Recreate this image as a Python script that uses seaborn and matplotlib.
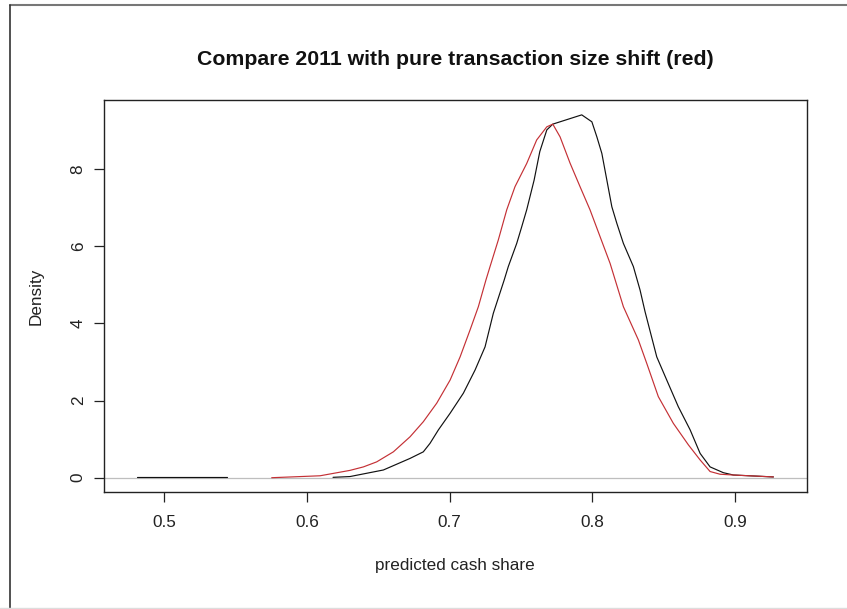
import pandas as pd
import seaborn as sns
import matplotlib.pyplot as plt
from matplotlib.lines import Line2D

# Density curves
black_x = [0.6183, 0.6302, 0.6536, 0.6723, 0.6816, 0.6863, 0.6922, 0.7004, 0.7097,
           0.7179, 0.7249, 0.7307, 0.7383, 0.7412, 0.7471, 0.7506, 0.7541, 0.7593,
           0.7633, 0.7682, 0.7724, 0.7927, 0.7998, 0.8033, 0.8068, 0.8103, 0.8138,
           0.8173, 0.8219, 0.8289, 0.8336, 0.8371, 0.8453, 0.8523, 0.8604, 0.8687,
           0.8757, 0.8827, 0.8920, 0.8990, 0.9271]
black_y = [0.01, 0.03, 0.20, 0.50, 0.67, 0.89, 1.24, 1.67, 2.19,
           2.79, 3.39, 4.26, 5.12, 5.47, 6.07, 6.50, 6.94, 7.71,
           8.45, 9.01, 9.16, 9.40, 9.22, 8.83, 8.40, 7.71, 7.02,
           6.59, 6.07, 5.47, 4.86, 4.30, 3.13, 2.53, 1.84, 1.24,
           0.63, 0.28, 0.13, 0.07, 0.02]
# short flat piece of the black curve on the far left
black_tail_x = [0.4806, 0.5438]
black_tail_y = [0.02, 0.02]

red_x = [0.5753, 0.6092, 0.6302, 0.6396, 0.6489, 0.6606, 0.6723, 0.6816, 0.6910,
         0.7004, 0.7074, 0.7144, 0.7202, 0.7255, 0.7284, 0.7342, 0.7401, 0.7459,
         0.7541, 0.7611, 0.7682, 0.7724, 0.7775, 0.7845, 0.7915, 0.7985, 0.8056,
         0.8126, 0.8219, 0.8324, 0.8383, 0.8464, 0.8569, 0.8675, 0.8757, 0.8827,
         0.8897, 0.8990, 0.9271]
red_y = [0.00, 0.05, 0.19, 0.28, 0.41, 0.67, 1.06, 1.45, 1.93,
         2.53, 3.13, 3.83, 4.43, 5.12, 5.47, 6.16, 6.94, 7.54,
         8.14, 8.75, 9.09, 9.16, 8.83, 8.15, 7.54, 6.94, 6.24,
         5.55, 4.43, 3.57, 2.96, 2.10, 1.41, 0.85, 0.46, 0.16,
         0.09, 0.07, 0.02]

x_ticks = [0.5, 0.6, 0.7, 0.8, 0.9]
y_ticks = [0, 2, 4, 6, 8]

df = pd.concat([
    pd.DataFrame({"x": black_tail_x, "y": black_tail_y, "series": "2011", "seg": "b0"}),
    pd.DataFrame({"x": black_x, "y": black_y, "series": "2011", "seg": "b1"}),
    pd.DataFrame({"x": red_x, "y": red_y, "series": "shift", "seg": "r1"}),
])

sns.set_style("ticks")
plt.rcParams["font.family"] = ["Liberation Sans", "DejaVu Sans"]

fig = plt.figure(figsize=(8.47, 6.09), dpi=100)
ax = fig.add_axes([104 / 847, 1 - 492.3 / 609, 702.5 / 847, 392.3 / 609])

# outer screenshot border
fig.add_artist(Line2D([9.5 / 847, 1], [1 - 5 / 609, 1 - 5 / 609], color="#777777", lw=1.5))
fig.add_artist(Line2D([9.5 / 847, 9.5 / 847], [0, 1 - 5 / 609], color="#333333", lw=1.2))
fig.add_artist(Line2D([0, 1], [1.5 / 609, 1.5 / 609], color="#dddddd", lw=1))

ax.axhline(0, color="#bebebe", lw=0.9, zorder=1)
sns.lineplot(data=df, x="x", y="y", hue="series", units="seg", estimator=None,
             sort=False, palette={"2011": "#111111", "shift": "#c43035"},
             lw=0.85, legend=False, ax=ax, zorder=3)

ax.set_xlim(0.4577, 0.9503)
ax.set_ylim(-0.378, 9.785)
ax.set_xticks(x_ticks)
ax.set_xticklabels([f"{t:.1f}" for t in x_ticks])
ax.set_yticks(y_ticks)
ax.set_yticklabels([str(t) for t in y_ticks], rotation=90, va="center")

for side in ["top", "right", "left", "bottom"]:
    ax.spines[side].set_visible(True)
    ax.spines[side].set_color("#222222")
    ax.spines[side].set_linewidth(1.0)

ax.tick_params(axis="both", direction="out", length=7.2, width=0.9,
               color="#222222", labelsize=12.3, labelcolor="#222222")
ax.tick_params(axis="x", pad=9)
ax.tick_params(axis="y", pad=6)

ax.set_xlabel("predicted cash share", fontsize=12.3, color="#222222")
ax.set_ylabel("Density", fontsize=12.3, color="#222222")
ax.xaxis.set_label_coords(0.5, -0.168)
ax.yaxis.set_label_coords(-0.086, 0.5)
ax.set_title("Compare 2011 with pure transaction size shift (red)",
             fontsize=15.3, fontweight="bold", pad=25, color="#111111")

fig.savefig("out.png", dpi=100, facecolor="white")
